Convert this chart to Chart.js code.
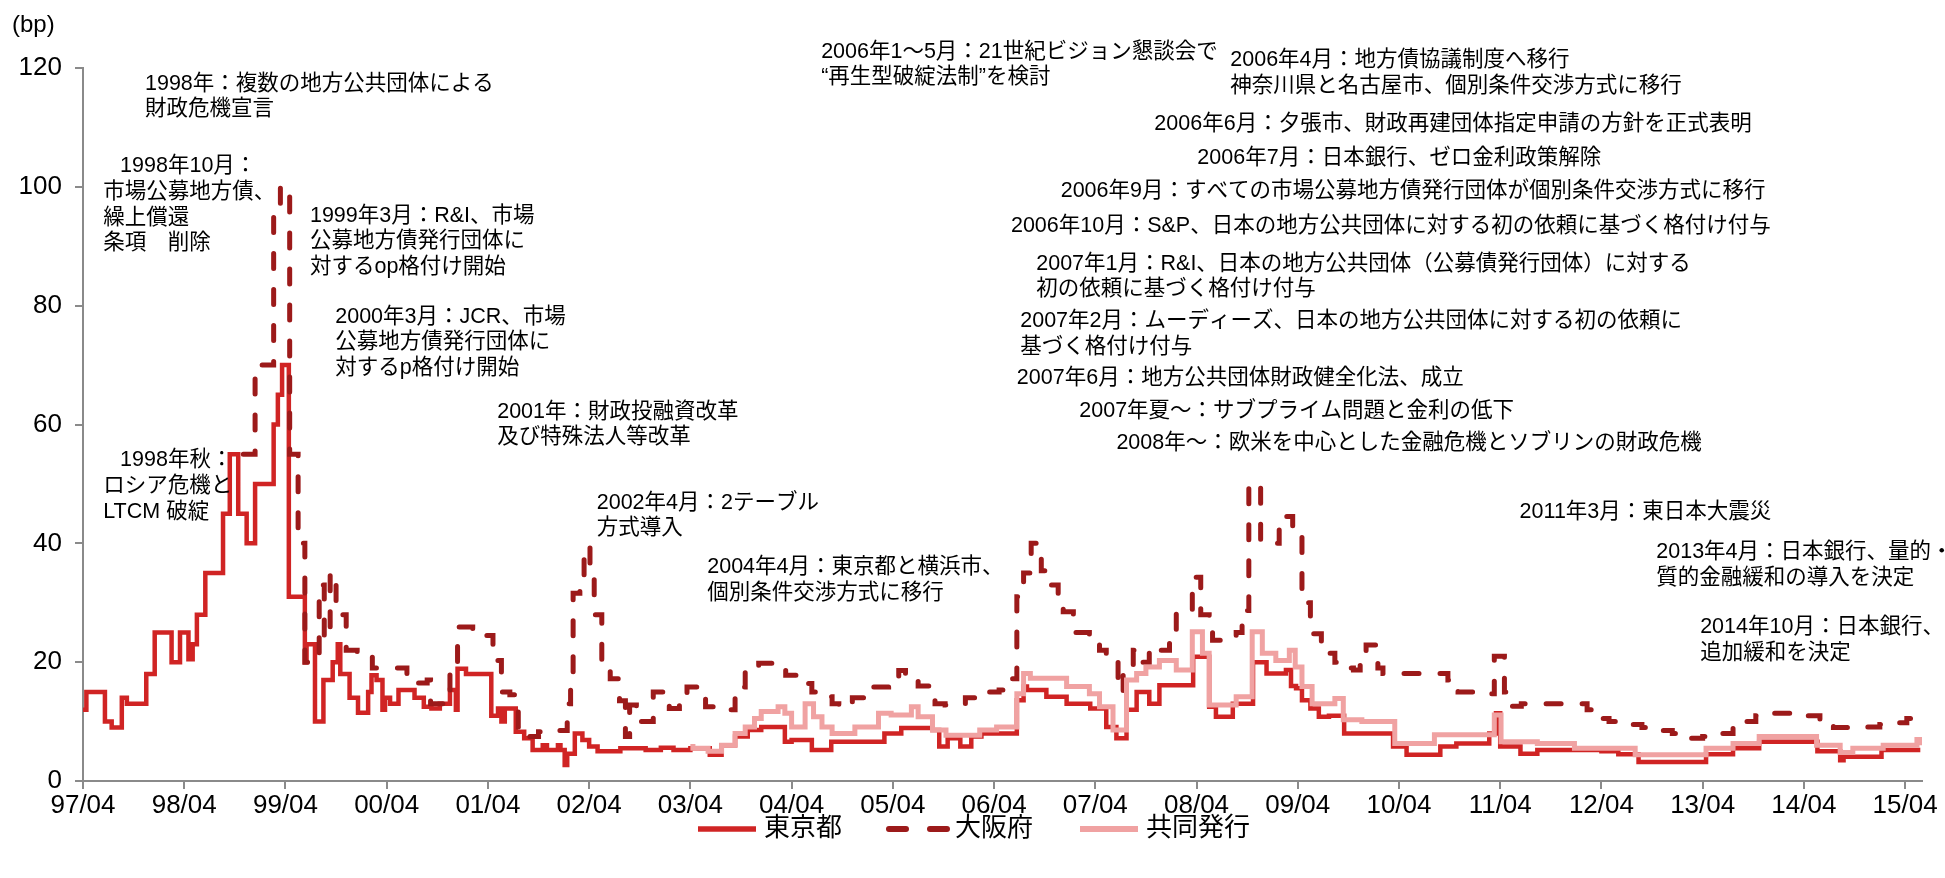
<!DOCTYPE html>
<html lang="ja">
<head>
<meta charset="utf-8">
<title>地方債スプレッドの推移</title>
<script src="https://cdn.jsdelivr.net/npm/chart.js@4.4.1/dist/chart.umd.min.js"></script>
<style>
  html, body { margin: 0; padding: 0; background: #fff; }
  #wrap { width: 1945px; height: 878px; }
  canvas { display: block; }
</style>
</head>
<body>
<div id="wrap"><canvas id="spread" width="1945" height="878"></canvas></div>
<script>
// months counted from 1997/04; each pair is [month the level starts, spread in bp]
const tokyo = [
  [0, 12], [0.4, 15], [2.6, 10], [3.4, 9], [4.6, 14], [5.2, 13], [7.5, 18], [8.5, 25],
  [10.5, 20], [11.5, 25], [12.5, 20.5], [13.0, 23], [13.5, 28], [14.5, 35], [16.6, 45],
  [17.4, 55], [18.4, 45], [19.4, 40], [20.4, 50], [22.6, 60], [23.1, 65], [23.6, 70],
  [24.4, 31], [26.3, 20], [26.5, 23], [27.5, 10], [28.5, 17], [29.6, 20], [30.2, 23],
  [30.5, 18], [31.6, 14], [32.6, 11.5], [33.8, 15], [34.2, 17.8], [34.8, 17], [35.5, 12],
  [35.8, 14], [36.4, 13], [37.4, 15.3], [39.3, 14], [40.4, 12.5], [41.3, 12.2], [42.3, 13],
  [43.5, 15.3], [44.2, 12], [44.4, 18.9], [45.4, 18], [48.4, 11], [49.2, 12.2], [49.6, 10],
  [50.0, 12.2], [51.3, 8.3], [52.3, 7.2], [53.3, 5.2], [54.5, 6], [55.0, 5.2], [56.3, 6],
  [56.6, 5.2], [57.1, 2.7], [57.4, 4.6], [58.3, 8], [59.2, 6.9], [60.0, 5.8], [61.0, 5],
  [63.7, 5.5], [66.7, 5.2], [68.5, 5.6], [70.0, 5.2], [72.0, 5.5], [74.3, 4.4], [75.7, 6],
  [77.3, 7.5], [78.8, 8.6], [80.4, 9.1], [83.2, 6.6], [84.0, 6.9], [86.4, 5.2], [88.7, 6.6],
  [95.0, 8], [97.0, 8.9], [100.7, 8.6], [101.5, 5.8], [102.5, 7.2], [104.0, 5.8], [105.3, 7.5],
  [106.5, 8], [110.7, 13.6], [111.5, 15.9], [111.9, 15.3], [114.2, 14.2], [116.6, 13],
  [119.4, 12.2], [121.3, 9.1], [122.5, 7.2], [123.7, 12], [124.9, 15], [126.4, 13],
  [127.6, 16.1], [131.6, 20.9], [133.5, 12.5], [134.3, 10.8], [136.3, 13], [138.7, 20],
  [140.3, 18.1], [142.6, 18.7], [143.2, 16], [143.8, 15.6], [144.5, 13.6], [145.5, 12.2],
  [146.5, 10.8], [147.7, 11], [149.5, 8], [155.3, 5.8], [156.9, 4.4], [160.9, 5.8],
  [162.8, 6.3], [166.7, 8], [167.5, 11.4], [168.0, 5.8], [170.4, 4.6], [172.4, 5.2],
  [180.0, 5], [182.0, 4.5], [184.4, 3.2], [192.4, 4.5], [195.6, 5.5], [198.7, 6.6],
  [205.6, 5], [208.3, 3.5], [208.7, 4.1], [213.2, 5.2], [217.8, 5.2]
];

const osaka = [
  [19.0, 55], [20.4, 70], [22.6, 96], [23.4, 100], [24.5, 55], [25.5, 40], [26.3, 20],
  [28.0, 33], [28.6, 24], [29.3, 35], [30.0, 30], [30.8, 28], [31.2, 22], [32.5, 21.5],
  [34.3, 19], [37.8, 19], [38.4, 16.5], [40.8, 17], [41.2, 13], [43.0, 14.5], [43.5, 18],
  [44.4, 25.9], [46.2, 25.5], [47.8, 24.5], [48.6, 20.3], [49.6, 15], [50.6, 14.5],
  [51.6, 9.1], [52.9, 7.5], [54.0, 8.3], [56.3, 8.5], [57.4, 13], [57.8, 17], [58.1, 31.6],
  [58.9, 33], [59.4, 39.5], [60.1, 34], [60.6, 28], [61.5, 20], [62.5, 17.2], [63.6, 13.5],
  [64.3, 7.5], [64.8, 12.8], [65.6, 10], [67.6, 15], [69.5, 12.2], [70.7, 13.5], [71.6, 15.8],
  [73.8, 12.5], [75.0, 12], [77.3, 15.8], [78.5, 18.6], [80.1, 19.8], [81.7, 19], [83.3, 17.8],
  [84.8, 16.4], [86.4, 15], [87.2, 14.2], [88.8, 13], [89.6, 12.5], [91.2, 14], [93.5, 15.8],
  [95.5, 17], [96.7, 18.6], [97.5, 17], [99.0, 16], [100.3, 14.7], [101.0, 13], [102.2, 12.8],
  [104.6, 14], [106.2, 15], [108.6, 15.3], [109.4, 16], [109.9, 17.2], [110.7, 31],
  [111.5, 35], [112.4, 40], [113.6, 35.4], [114.2, 33], [115.6, 30], [116.2, 28.5],
  [117.4, 25], [119.3, 23.7], [120.5, 22], [121.3, 20.5], [122.7, 15], [123.3, 18],
  [124.5, 22], [125.6, 20], [126.4, 22.5], [127.6, 22], [128.8, 24], [129.6, 28.2],
  [131.5, 34.3], [132.5, 28], [133.5, 25], [133.9, 23.7], [136.7, 25], [137.4, 28.7],
  [138.2, 50], [139.6, 40], [141.8, 43], [142.4, 44.5], [143.4, 42.2], [144.5, 30],
  [145.5, 24.8], [146.8, 23], [147.4, 21.5], [148.4, 20], [150.0, 19], [150.6, 18.7],
  [151.4, 20], [152.1, 22.9], [153.5, 19], [154.1, 18.1], [161.8, 17], [163.0, 15],
  [165.0, 14.8], [166.3, 14.7], [167.3, 21], [168.5, 15], [168.9, 12.6], [170.5, 13],
  [178.3, 12], [179.5, 10.5], [180.9, 10], [183.3, 9.5], [184.8, 9], [187.0, 8.5],
  [188.4, 8], [189.8, 7.2], [192.0, 7.5], [193.2, 8], [195.6, 9], [196.2, 10], [198.3, 11],
  [199.3, 11.4], [202.7, 11.2], [204.3, 11], [205.9, 10], [207.5, 9], [210.6, 9.1],
  [213.0, 9.5], [214.6, 9.8], [216.2, 10.5], [217.8, 10.5]
];

const joint = [
  [72.0, 5.8], [72.3, 5.5], [74.1, 5.0], [75.7, 6], [77.3, 8], [78.5, 9.1], [79.6, 10.5],
  [80.4, 11.7], [82.4, 12.5], [83.2, 11.4], [84.0, 9.1], [85.6, 13], [86.6, 10.8],
  [87.6, 9.1], [88.8, 8], [91.5, 9.1], [94.3, 11.4], [95.8, 11.1], [98.2, 12.5], [99.0, 10.8],
  [100.7, 8.6], [102.3, 7.7], [106.3, 8.6], [108.3, 9.1], [110.7, 14.7], [111.5, 18.1],
  [112.3, 17.3], [116.6, 15.9], [119.3, 14.7], [120.5, 12.5], [122.1, 8.6], [123.7, 17],
  [124.9, 18.1], [126.0, 19.2], [127.6, 20.3], [129.6, 18.7], [131.5, 25.1], [132.7, 21.5],
  [133.5, 12.8], [136.7, 14.2], [138.6, 25.1], [139.8, 21.5], [141.4, 20.3], [143.0, 22],
  [143.7, 19.2], [144.5, 15.9], [145.7, 13], [148.4, 13.9], [149.4, 10.3], [151.6, 10],
  [155.5, 6.3], [160.2, 7.8], [167.3, 11.1], [168.1, 6.6], [172.4, 6.3], [176.8, 5.5],
  [180.0, 5.5], [184.0, 4.4], [192.4, 5.5], [195.6, 6.3], [198.7, 7.5], [205.5, 6],
  [208.3, 4.8], [209.8, 5.5], [213.4, 6], [217.4, 7], [217.8, 6]
];

const tickMonths = [0, 12, 24, 36, 48, 60, 72, 84, 96, 108, 120, 132, 144, 156, 168, 180, 192, 204, 216];
const tickLabels = ['97/04', '98/04', '99/04', '00/04', '01/04', '02/04', '03/04', '04/04', '05/04',
  '06/04', '07/04', '08/04', '09/04', '10/04', '11/04', '12/04', '13/04', '14/04', '15/04'];

// event notes, anchored at [month, bp] of the first line
const notes = [
  { at: [7.35, 117.3], lines: ['1998年：複数の地方公共団体による', '財政危機宣言'] },
  { at: [4.4, 103.5], lines: ['1998年10月：'] },
  { at: [2.4, 99.1], lines: ['市場公募地方債、', '繰上償還', '条項　削除'] },
  { at: [26.9, 95.1], lines: ['1999年3月：R&I、市場', '公募地方債発行団体に', '対するop格付け開始'] },
  { at: [29.9, 78.1], lines: ['2000年3月：JCR、市場', '公募地方債発行団体に', '対するp格付け開始'] },
  { at: [49.1, 62.1], lines: ['2001年：財政投融資改革', '及び特殊法人等改革'] },
  { at: [4.4, 54.0], lines: ['1998年秋：'] },
  { at: [2.4, 49.6], lines: ['ロシア危機と', 'LTCM 破綻'] },
  { at: [60.9, 46.8], lines: ['2002年4月：2テーブル', '方式導入'] },
  { at: [74.0, 36.0], lines: ['2004年4月：東京都と横浜市、', '個別条件交渉方式に移行'] },
  { at: [87.5, 122.7], lines: ['2006年1〜5月：21世紀ビジョン懇談会で', '“再生型破綻法制”を検討'] },
  { at: [136.0, 121.3], lines: ['2006年4月：地方債協議制度へ移行', '神奈川県と名古屋市、個別条件交渉方式に移行'] },
  { at: [127.0, 110.6], lines: ['2006年6月：夕張市、財政再建団体指定申請の方針を正式表明'] },
  { at: [132.1, 104.9], lines: ['2006年7月：日本銀行、ゼロ金利政策解除'] },
  { at: [115.9, 99.3], lines: ['2006年9月：すべての市場公募地方債発行団体が個別条件交渉方式に移行'] },
  { at: [110.0, 93.4], lines: ['2006年10月：S&P、日本の地方公共団体に対する初の依頼に基づく格付け付与'] },
  { at: [113.0, 87.0], lines: ['2007年1月：R&I、日本の地方公共団体（公募債発行団体）に対する', '初の依頼に基づく格付け付与'] },
  { at: [111.1, 77.4], lines: ['2007年2月：ムーディーズ、日本の地方公共団体に対する初の依頼に', '基づく格付け付与'] },
  { at: [110.7, 67.8], lines: ['2007年6月：地方公共団体財政健全化法、成立'] },
  { at: [118.1, 62.3], lines: ['2007年夏〜：サブプライム問題と金利の低下'] },
  { at: [122.5, 56.9], lines: ['2008年〜：欧米を中心とした金融危機とソブリンの財政危機'] },
  { at: [170.3, 45.3], lines: ['2011年3月：東日本大震災'] },
  { at: [186.5, 38.5], lines: ['2013年4月：日本銀行、量的・', '質的金融緩和の導入を決定'] },
  { at: [191.7, 25.9], lines: ['2014年10月：日本銀行、', '追加緩和を決定'] }
];

const FONT = '"Liberation Sans", Arial, "Noto Sans CJK JP", sans-serif';
const AXIS_GREY = '#8a8a8a';
const toPoints = (rows) => rows.map(([m, v]) => ({ x: m, y: v }));

const notesPlugin = {
  id: 'notes',
  afterDraw(chart) {
    const { ctx, chartArea } = chart;
    const { x, y } = chart.scales;
    ctx.save();
    ctx.fillStyle = '#000';
    ctx.textAlign = 'left';
    ctx.textBaseline = 'middle';
    ctx.font = '21.5px ' + FONT;
    notes.forEach((n) => {
      const px = x.getPixelForValue(n.at[0]);
      const py = y.getPixelForValue(n.at[1]);
      n.lines.forEach((t, i) => ctx.fillText(t, px, py + i * 25.5));
    });
    ctx.font = '24px ' + FONT;
    ctx.fillText('(bp)', chartArea.left - 71, chartArea.top - 43);
    ctx.restore();
  }
};

// legend along the bottom edge: line sample followed by the series name
const legendPlugin = {
  id: 'lineLegend',
  afterDraw(chart) {
    const { ctx } = chart;
    const sample = 64, textGap = 5, itemGap = 44;
    ctx.save();
    ctx.font = '26px ' + FONT;
    const items = chart.data.datasets.map((ds) => ({ ds, w: sample + textGap + ctx.measureText(ds.label).width }));
    const total = items.reduce((s, it) => s + it.w, 0) + itemGap * (items.length - 1);
    let cx = (chart.width - total) / 2;
    const cy = chart.height - 49;
    items.forEach(({ ds, w }) => {
      ctx.beginPath();
      ctx.strokeStyle = ds.borderColor;
      ctx.lineWidth = ds.borderWidth + 1;
      ctx.lineCap = ds.borderCapStyle || 'butt';
      ctx.setLineDash(ds.legendDash || []);
      ctx.moveTo(cx + 3, cy);
      ctx.lineTo(cx + sample - 3, cy);
      ctx.stroke();
      ctx.setLineDash([]);
      ctx.fillStyle = '#000';
      ctx.textAlign = 'left';
      ctx.textBaseline = 'middle';
      ctx.fillText(ds.label, cx + sample + textGap, cy);
      cx += w + itemGap;
    });
    ctx.restore();
  }
};

new Chart(document.getElementById('spread'), {
  type: 'line',
  data: {
    datasets: [
      {
        label: '東京都',
        data: toPoints(tokyo),
        borderColor: '#d02424',
        borderWidth: 4.5,
        stepped: true,
        order: 3
      },
      {
        label: '大阪府',
        data: toPoints(osaka),
        borderColor: '#9c1a1a',
        borderWidth: 5,
        borderDash: [15, 21],
        legendDash: [17, 24],
        borderCapStyle: 'round',
        stepped: true,
        order: 2
      },
      {
        label: '共同発行',
        data: toPoints(joint),
        borderColor: '#f0a2a2',
        borderWidth: 5,
        stepped: true,
        order: 1
      }
    ]
  },
  options: {
    responsive: false,
    animation: false,
    events: [],
    layout: { padding: { left: 0, right: 23, top: 68, bottom: 61 } },
    elements: { point: { radius: 0 }, line: { tension: 0, borderJoinStyle: 'miter' } },
    plugins: { legend: { display: false }, tooltip: { enabled: false } },
    scales: {
      x: {
        type: 'linear',
        min: 0,
        max: 218,
        afterFit: (scale) => { scale.height = 36; },
        afterBuildTicks: (scale) => { scale.ticks = tickMonths.map((value) => ({ value })); },
        grid: { drawOnChartArea: false, drawTicks: true, tickLength: 8, color: AXIS_GREY, lineWidth: 2 },
        border: { display: true, color: AXIS_GREY, width: 2 },
        ticks: {
          autoSkip: false,
          maxRotation: 0,
          padding: 1,
          color: '#000',
          font: { family: FONT, size: 26 },
          callback: (value, i) => tickLabels[i]
        }
      },
      y: {
        min: 0,
        max: 120,
        afterFit: (scale) => { scale.width = 83; },
        grid: { drawOnChartArea: false, drawTicks: true, tickLength: 8, color: AXIS_GREY, lineWidth: 2 },
        border: { display: true, color: AXIS_GREY, width: 2 },
        ticks: {
          stepSize: 20,
          padding: 13,
          color: '#000',
          font: { family: FONT, size: 26 }
        }
      }
    }
  },
  plugins: [notesPlugin, legendPlugin]
});
</script>
</body>
</html>
